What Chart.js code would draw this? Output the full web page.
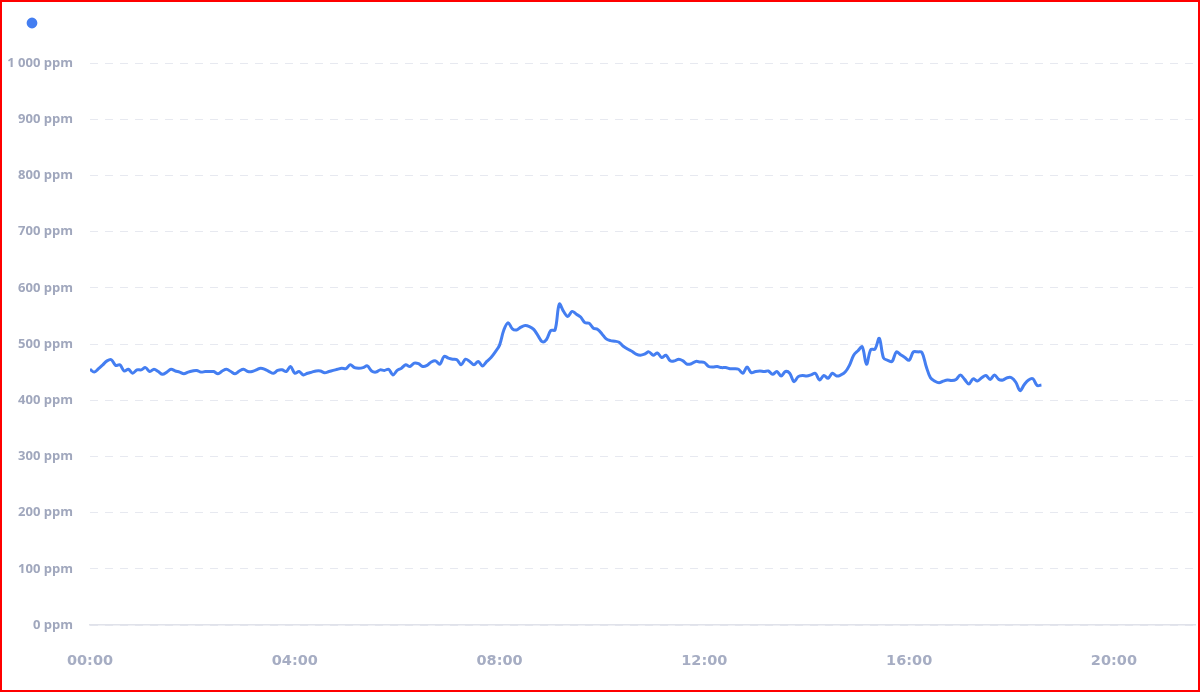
<!DOCTYPE html>
<html>
<head>
<meta charset="utf-8">
<script src="https://cdn.jsdelivr.net/npm/chart.js@4.4.1/dist/chart.umd.min.js"></script>
<style>
  html, body { margin: 0; padding: 0; background: #ffffff; }
  #frame { width: 1200px; height: 692px; box-sizing: border-box; border: 2px solid #ff0000; position: relative; }
  #wrap { position: absolute; left: 0; top: 0; width: 1196px; height: 688px; }
</style>
</head>
<body>
<div id="frame"><div id="wrap"><canvas id="c" width="1196" height="688"></canvas></div></div>
<script>
// ---- Data ----
const seriesLabel = '';
const startMinute = 0;      // 00:00
const stepMinutes = 5;      // sampling interval
const co2Values = [
  455,450,456,463,470,472,462,463,452,455,448,454,454,458,451,455,451,446,450,455,
  452,450,447,450,452,453,450,451,451,451,447,452,455,451,447,452,455,451,451,454,
  457,455,451,448,453,454,451,460,448,451,445,448,450,452,452,449,451,453,455,457,
  456,463,458,457,458,461,452,450,454,453,455,445,453,457,463,460,466,465,460,462,
  468,470,464,478,475,473,472,463,473,469,463,469,461,469,476,486,498,525,538,527,
  525,530,533,531,526,515,504,508,524,525,571,558,549,558,553,548,538,537,528,526,
  518,509,506,505,503,496,491,487,482,480,482,486,480,484,476,480,470,470,473,470,
  464,465,469,468,467,460,459,460,458,458,456,456,455,448,459,449,451,452,451,452,
  446,451,443,451,448,433,442,444,443,445,448,436,444,439,448,443,445,450,462,480,
  488,495,464,490,491,510,475,471,469,486,481,476,471,486,486,485,460,440,434,431,
  434,436,435,437,445,437,429,438,434,440,444,437,445,437,436,440,440,432,417,428,
  436,438,426,427
];
const xTickMinutes = [0, 240, 480, 720, 960, 1200];
const yTickValues = [0,100,200,300,400,500,600,700,800,900,1000];
const xMaxMinutes = 1295;

// ---- Build ----
const minutes = co2Values.map((_, i) => startMinute + i * stepMinutes);
const points = co2Values.map((v, i) => ({ x: minutes[i], y: v }));

function hhmm(m) {
  const h = Math.floor(m / 60), mm = m % 60;
  return String(h).padStart(2, '0') + ':' + String(mm).padStart(2, '0');
}
function ppm(v) {
  const s = v >= 1000 ? Math.floor(v / 1000) + ' ' + String(v % 1000).padStart(3, '0') : String(v);
  return s + ' ppm';
}

const BLUE = '#447ef1';
const FONT = "'Open Sans', 'DejaVu Sans', sans-serif";
const XFONT = "'DejaVu Sans', sans-serif";

// let the y tick labels extend left of the axis box without being clipped
const unclipY = {
  id: 'unclipY',
  afterLayout(chart) { chart.scales.y.left = 0; }
};

new Chart(document.getElementById('c'), {
  type: 'line',
  data: {
    datasets: [{
      label: seriesLabel,
      data: points,
      borderColor: BLUE,
      backgroundColor: BLUE,
      borderWidth: 3,
      pointRadius: 0,
      pointHoverRadius: 0,
      tension: 0.35,
      fill: false
    }]
  },
  plugins: [unclipY],
  options: {
    responsive: false,
    animation: false,
    layout: { padding: { left: 17, top: 5, right: 3, bottom: 19 } },
    plugins: {
      legend: {
        display: true,
        position: 'top',
        align: 'start',
        labels: {
          usePointStyle: true,
          pointStyle: 'circle',
          boxWidth: 6,
          boxHeight: 5.5,
          padding: 10,
          font: { family: FONT, size: 12 }
        }
      },
      subtitle: {
        display: true,
        text: ' ',
        weight: 500,
        position: 'top',
        font: { size: 10, lineHeight: 1 },
        padding: { top: 7, bottom: 7 }
      },
      tooltip: { enabled: false }
    },
    scales: {
      x: {
        type: 'linear',
        min: 0,
        max: xMaxMinutes,
        afterBuildTicks: (s) => { s.ticks = xTickMinutes.map(v => ({ value: v })); },
        afterFit: (s) => { s.height = 46; },
        grid: { display: false, drawTicks: false },
        border: { display: true, color: '#e0e2ea', width: 1.5 },
        ticks: {
          autoSkip: false,
          maxRotation: 0,
          padding: 28,
          color: '#a6adc3',
          font: { family: XFONT, size: 14.5, weight: '700' },
          callback: (v) => hhmm(v)
        }
      },
      y: {
        min: 0,
        max: 1000,
        afterBuildTicks: (s) => { s.ticks = yTickValues.map(v => ({ value: v })); },
        afterFit: (s) => { s.width = 71; },
        grid: { display: true, drawTicks: false, color: '#e7e9f0', lineWidth: 1 },
        border: { display: false, dash: [8, 7] },
        ticks: {
          padding: 17,
          color: '#a0a7bd',
          font: { family: FONT, size: 13, weight: '700' },
          callback: (v) => ppm(v)
        }
      }
    }
  }
});
</script>
</body>
</html>
